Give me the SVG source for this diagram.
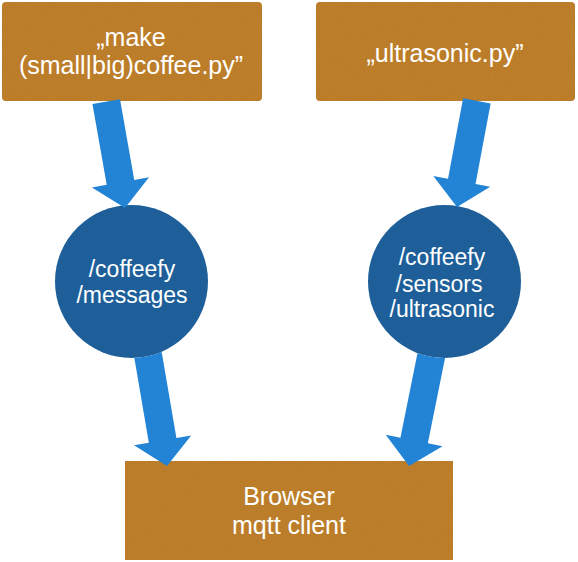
<svg xmlns="http://www.w3.org/2000/svg" width="578" height="562" viewBox="0 0 578 562">
<style>
.box{fill:#C4832F}
.topic{fill:#1E5F9A}
.arrow{fill:#2384D6}
.lbl{fill:#FFFFFF;font-family:"Liberation Sans",Arial,sans-serif;text-anchor:middle}
.big{font-size:25px}
.small{font-size:23px}
</style>
<defs>
<filter id="grain" x="0" y="0" width="100%" height="100%">
<feTurbulence type="fractalNoise" baseFrequency="0.85" numOctaves="2" seed="4" result="n"/>
<feColorMatrix in="n" type="matrix" values="0 0 0 0 0  0 0 0 0 0  0 0 0 0 0  0 0 0 0.18 0" result="a"/>
<feComposite in="a" in2="SourceGraphic" operator="in" result="b"/>
<feMerge><feMergeNode in="SourceGraphic"/><feMergeNode in="b"/></feMerge>
</filter>
<clipPath id="outsideCircles">
<path clip-rule="evenodd" d="M0,0H578V562H0Z M55,281.5a76.5,76.5 0 1,0 153,0a76.5,76.5 0 1,0 -153,0Z M368,281.5a76.5,76.5 0 1,0 153,0a76.5,76.5 0 1,0 -153,0Z"/>
</clipPath>
<polygon id="arrowTop" points="-14,-108 14,-108 14,-26 29,-26 0,0 -29,-26 -14,-26"/>
<polygon id="arrowBottom" points="-14,-140 14,-140 14,-26 29,-26 0,0 -29,-26 -14,-26"/>
</defs>

<g id="node-make">
<rect class="box" x="2" y="2" width="260" height="99" rx="4" filter="url(#grain)"/>
<text class="lbl big" x="131" y="46">„make</text>
<text class="lbl big" x="131" y="74">(small|big)coffee.py”</text>
</g>

<g id="node-ultrasonic">
<rect class="box" x="316" y="2" width="259" height="99" rx="4" filter="url(#grain)"/>
<text class="lbl big" x="445" y="62">„ultrasonic.py”</text>
</g>

<g id="node-topic-messages">
<circle class="topic" cx="131.5" cy="281.5" r="76.5"/>
<text class="lbl small" x="132" y="277">/coffeefy</text>
<text class="lbl small" x="132" y="303">/messages</text>
</g>

<g id="node-topic-ultrasonic">
<circle class="topic" cx="444.5" cy="281.5" r="76.5"/>
<text class="lbl small" x="442" y="265">/coffeefy</text>
<text class="lbl small" x="439" y="292">/sensors</text>
<text class="lbl small" x="442" y="317">/ultrasonic</text>
</g>

<g id="node-browser">
<rect class="box" x="125" y="461" width="328" height="99" filter="url(#grain)"/>
<text class="lbl big" x="289" y="505">Browser</text>
<text class="lbl big" x="289" y="534">mqtt client</text>
</g>

<g id="connectors">
<use href="#arrowTop" class="arrow" transform="translate(125,208) rotate(-10)"/>
<use href="#arrowTop" class="arrow" transform="translate(457,207) rotate(10.6)"/>
<g clip-path="url(#outsideCircles)">
<use href="#arrowBottom" class="arrow" transform="translate(167,466) rotate(-9.7)"/>
<use href="#arrowBottom" class="arrow" transform="translate(409,466) rotate(11.4)"/>
</g>
</g>
</svg>
